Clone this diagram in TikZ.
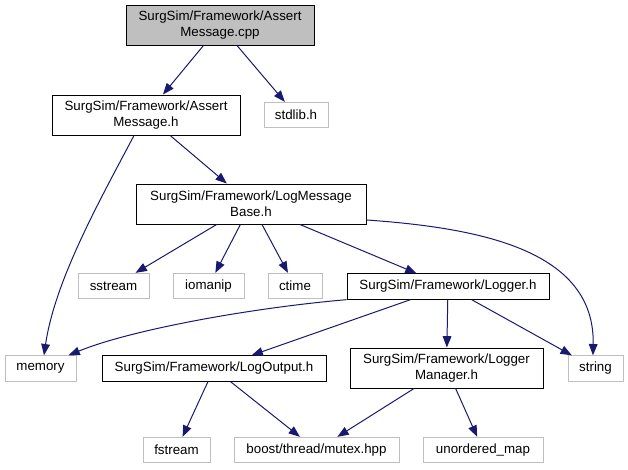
\documentclass[tikz,border=0pt]{standalone}
\usepackage{fontspec}
\setmainfont{Liberation Sans}
\usepackage{tikz}
\usetikzlibrary{arrows.meta, positioning}
\usepackage{xcolor}
\definecolor{edgeblue}{RGB}{25,25,112}
\definecolor{extgray}{RGB}{191,191,191}
\definecolor{rootgray}{RGB}{191,191,191}

\begin{document}
\begin{tikzpicture}[
    x=0.75pt, y=-0.75pt,
    file/.style={rectangle, draw=black, line width=0.75pt, inner sep=0pt,
                 minimum height=19pt, align=center,
                 font=\fontsize{10}{12}\selectfont},
    twoline/.style={file, minimum height=30pt},
    extfile/.style={file, draw=extgray},
    incl/.style={-{Triangle[length=8.5pt, width=6.5pt]}, draw=edgeblue,
                 line width=0.75pt}
]
\useasboundingbox (0,0) rectangle (628,469);

% Files
\node[twoline, fill=rootgray, minimum width=141pt] (cpp) at (220,25.5)
    {SurgSim/Framework/Assert\\Message.cpp};
\node[twoline, minimum width=141pt] (amh) at (146,115)
    {SurgSim/Framework/Assert\\Message.h};
\node[extfile, minimum width=48pt] (stdlib) at (296,115) {stdlib.h};
\node[twoline, minimum width=172.5pt] (lmb) at (251,204)
    {SurgSim/Framework/LogMessage\\Base.h};
\node[extfile, minimum width=53.25pt] (sstream) at (113.5,286) {sstream};
\node[extfile, minimum width=53.25pt] (iomanip) at (208.5,286) {iomanip};
\node[extfile, minimum width=40.5pt] (ctime) at (295,286) {ctime};
\node[file, minimum width=151.5pt] (logger) at (448,286.5)
    {SurgSim/Framework/Logger.h};
\node[extfile, minimum width=53.25pt] (memory) at (40.5,368.5) {memory};
\node[file, minimum width=168pt] (logout) at (214,368.5)
    {SurgSim/Framework/LogOutput.h};
\node[twoline, minimum width=144.75pt] (logmgr) at (446.5,368)
    {SurgSim/Framework/Logger\\Manager.h};
\node[extfile, minimum width=41.25pt] (string) at (595.5,368.5) {string};
\node[extfile, minimum width=50.25pt] (fstream) at (176.5,450) {fstream};
\node[extfile, minimum width=123.75pt] (mutex) at (316.5,450)
    {boost/thread/mutex.hpp};
\node[extfile, minimum width=90pt] (umap) at (483,450) {unordered\_map};

% Includes
\draw[incl] (cpp) -- (amh);
\draw[incl] (cpp) -- (stdlib);
\draw[incl] (amh) -- (lmb);
\draw[incl] ([xshift=-9pt]amh.south) .. controls (100,200) and (55,280)
    .. ([xshift=2.6pt]memory.north);
\draw[incl] (lmb) -- (sstream);
\draw[incl] (lmb) -- (iomanip);
\draw[incl] (lmb) -- (ctime);
\draw[incl] (lmb) -- (logger);
\draw[incl] ([yshift=3.4pt]lmb.south east) .. controls (480,228) and (595,250)
    .. ([xshift=-1.9pt]string.north);
\draw[incl] (logger.south west) .. controls (250,308) and (130,330)
    .. ([xshift=-6pt]memory.north east);
\draw[incl] (logger) -- (logout);
\draw[incl] (logger) -- (logmgr);
\draw[incl] (logger) -- (string);
\draw[incl] (logout) -- (fstream);
\draw[incl] (logout) -- (mutex);
\draw[incl] (logmgr) -- (mutex);
\draw[incl] (logmgr) -- (umap);
\end{tikzpicture}
\end{document}
